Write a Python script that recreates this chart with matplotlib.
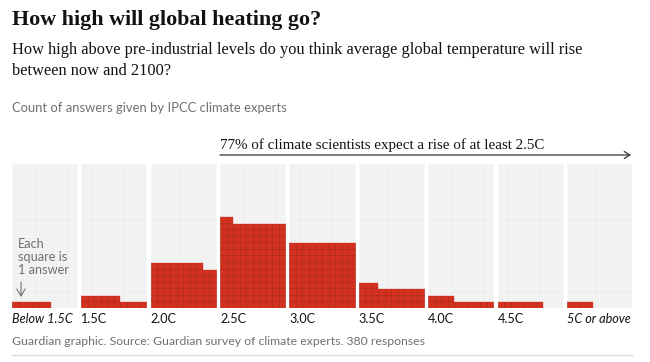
import matplotlib
matplotlib.use('Agg')
import matplotlib.pyplot as plt
from matplotlib.patches import Rectangle, FancyArrowPatch

# data: count of answers per temperature bucket (1 square = 1 answer)
categories = ['Below 1.5C', '1.5C', '2.0C', '2.5C', '3.0C', '3.5C', '4.0C', '4.5C', '5C or above']
counts = [6, 16, 68, 132, 100, 33, 14, 7, 4]
italic_labels = ['Below 1.5C', '5C or above']

# appearance
W, H = 650, 362
COLS = 10
ROWS = 22
GAP = 0.673          # gap between panels, in squares
RED = '#d3301f'
RED_EDGE = '#a8200f'
EMPTY = '#f1f1f1'
SERIF = 'Liberation Serif'
SANS = 'Lato'


def fx(x):
    return x / W


def fy(y):
    return 1 - y / H


fig = plt.figure(figsize=(W / 100, H / 100), dpi=100)
fig.patch.set_facecolor('white')

# chart area in pixels: x 12..632, y 164..307.7
ax = fig.add_axes([fx(12), fy(307.7), fx(632) - fx(12), fy(164) - fy(307.7)])
ax.set_xlim(0, len(categories) * COLS + (len(categories) - 1) * GAP)
ax.set_ylim(0, ROWS)
ax.axis('off')

for k, (cat, n) in enumerate(zip(categories, counts)):
    x0 = k * (COLS + GAP)
    for r in range(ROWS):
        for c in range(COLS):
            i = r * COLS + c
            if i < n:
                ax.add_patch(Rectangle((x0 + c, r), 1, 1, facecolor=RED,
                                       edgecolor=RED_EDGE, lw=0.4))
            else:
                ax.add_patch(Rectangle((x0 + c, r), 1, 1, facecolor=EMPTY,
                                       edgecolor='#f8f8f8', lw=0.4))
    style = 'italic' if cat in italic_labels else 'normal'
    fig.text(fx(12) + (fx(632) - fx(12)) * x0 / ax.get_xlim()[1], fy(323), cat,
             ha='left', va='baseline', fontsize=9.05, family=SANS,
             style=style, color='#121212')

# titles
fig.text(fx(12), fy(25), 'How high will global heating go?', fontsize=15.8,
         weight='bold', family=SERIF, color='#121212', va='baseline')
fig.text(fx(12), fy(54), 'How high above pre-industrial levels do you think average global temperature will rise',
         fontsize=11.8, family=SERIF, color='#121212', va='baseline')
fig.text(fx(12), fy(75), 'between now and 2100?', fontsize=11.8, family=SERIF,
         color='#121212', va='baseline')
fig.text(fx(12), fy(112), 'Count of answers given by IPCC climate experts', fontsize=9.4,
         family=SANS, color='#707070', va='baseline')

# annotation with arrow
fig.text(fx(220), fy(149), '77% of climate scientists expect a rise of at least 2.5C',
         fontsize=10.8, family=SERIF, color='#121212', va='baseline')
fig.add_artist(FancyArrowPatch(
    (fx(220), fy(155)), (fx(631), fy(155)), transform=fig.transFigure,
    arrowstyle='->,head_length=4,head_width=2.5', color='#333333', lw=0.9,
    shrinkA=0, shrinkB=0))

# key (baseline of the last line)
fig.text(fx(18), fy(274), 'Each\nsquare is\n1 answer', fontsize=9.2, family=SANS,
         color='#707070', va='baseline', linespacing=1.1)
fig.add_artist(FancyArrowPatch(
    (fx(21), fy(282)), (fx(21), fy(297)), transform=fig.transFigure,
    arrowstyle='->,head_length=5,head_width=3', color='#707070', lw=0.8,
    shrinkA=0, shrinkB=0))

# footer
fig.text(fx(12), fy(345), 'Guardian graphic. Source: Guardian survey of climate experts. 380 responses',
         fontsize=8.8, family=SANS, color='#707070', va='baseline')
fig.add_artist(plt.Line2D([fx(12), fx(632)], [fy(355), fy(355)],
                          transform=fig.transFigure, color='#dcdcdc', lw=1))

fig.savefig('out.png', dpi=100)
